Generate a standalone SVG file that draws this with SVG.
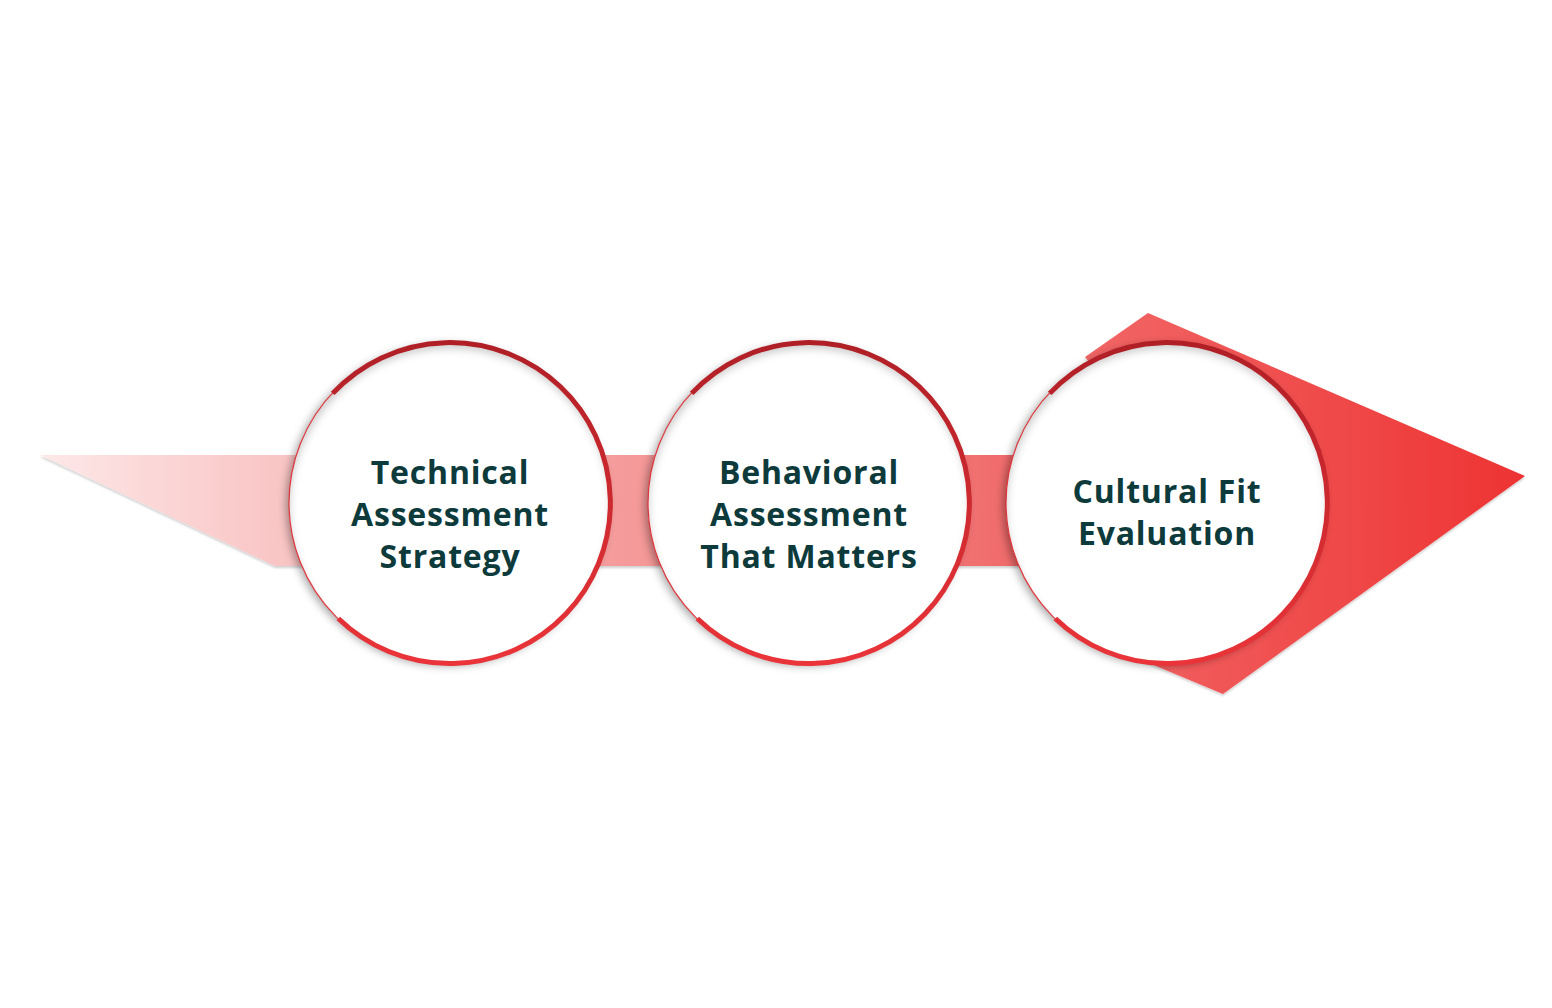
<svg xmlns="http://www.w3.org/2000/svg" width="1552" height="1008" viewBox="0 0 1552 1008">
<defs>
  <linearGradient id="bandGrad" gradientUnits="userSpaceOnUse" x1="40" y1="0" x2="1020" y2="0">
    <stop offset="0" stop-color="#fde8e8"/>
    <stop offset="0.25" stop-color="#f9c4c4"/>
    <stop offset="0.6" stop-color="#f59a9a"/>
    <stop offset="1" stop-color="#f06a6a"/>
  </linearGradient>
  <linearGradient id="headGrad" gradientUnits="userSpaceOnUse" x1="1050" y1="0" x2="1525" y2="0">
    <stop offset="0" stop-color="#f26a6a"/>
    <stop offset="1" stop-color="#ee3333"/>
  </linearGradient>
  <linearGradient id="ringGrad" x1="0" y1="0" x2="0" y2="1">
    <stop offset="0" stop-color="#b01f26"/>
    <stop offset="1" stop-color="#ea3439"/>
  </linearGradient>
  <filter id="circShadow" x="-20%" y="-20%" width="140%" height="140%">
    <feDropShadow dx="-3" dy="2" stdDeviation="4" flood-color="#000" flood-opacity="0.35"/>
  </filter>
  <filter id="bandShadow" x="-5%" y="-20%" width="110%" height="140%">
    <feDropShadow dx="0" dy="2" stdDeviation="1" flood-color="#000" flood-opacity="0.18"/>
  </filter>
  <filter id="innerBlur" x="-10%" y="-10%" width="120%" height="120%">
    <feGaussianBlur stdDeviation="4"/>
  </filter>
  <clipPath id="clip1"><circle cx="450" cy="503" r="161"/></clipPath>
  <clipPath id="clip2"><circle cx="809" cy="503" r="161"/></clipPath>
  <clipPath id="clip3"><circle cx="1167" cy="503" r="161"/></clipPath>
  <style>
    .disc { fill: #ffffff; filter: url(#circShadow); }
    .inner { fill: none; stroke: #000000; stroke-opacity: 0.22; stroke-width: 10; filter: url(#innerBlur); }
    .ring { fill: none; stroke: url(#ringGrad); stroke-width: 5; }
    .thin { fill: none; stroke: #e0353b; stroke-width: 1.2; }
    .label { font-family: "Open Sans", "Liberation Sans", sans-serif; font-weight: 700; font-size: 32px; fill: #0d3a3b; text-anchor: middle; letter-spacing: 0.8px; }
  </style>
</defs>
<rect width="1552" height="1008" fill="#ffffff"/>

<g id="connectors">
  <polygon id="band" points="40,455 1020,455 1020,566 275,566" fill="url(#bandGrad)" filter="url(#bandShadow)"/>
  <polygon id="arrowhead" points="1148,313 1525,476 1223,694 1120,651 1100,420 1100,375 1085,357" fill="url(#headGrad)" filter="url(#bandShadow)"/>
</g>

<g id="node1">
  <circle class="disc" cx="450" cy="503" r="161"/>
  <g clip-path="url(#clip1)"><circle class="inner" cx="450" cy="509" r="166"/></g>
  <circle class="thin" cx="450" cy="503" r="161"/>
  <path class="ring" d="M 332.7 393.4 A 160.5 160.5 0 1 1 338.3 618.5"/>
  <text class="label" x="450" y="484">Technical</text>
  <text class="label" x="450" y="526">Assessment</text>
  <text class="label" x="450" y="568">Strategy</text>
</g>

<g id="node2">
  <circle class="disc" cx="809" cy="503" r="161"/>
  <g clip-path="url(#clip2)"><circle class="inner" cx="809" cy="509" r="166"/></g>
  <circle class="thin" cx="809" cy="503" r="161"/>
  <path class="ring" d="M 691.7 393.4 A 160.5 160.5 0 1 1 697.3 618.5"/>
  <text class="label" x="809" y="484">Behavioral</text>
  <text class="label" x="809" y="526">Assessment</text>
  <text class="label" x="809" y="568">That Matters</text>
</g>

<g id="node3">
  <circle class="disc" cx="1167" cy="503" r="161"/>
  <g clip-path="url(#clip3)"><circle class="inner" cx="1167" cy="509" r="166"/></g>
  <circle class="thin" cx="1167" cy="503" r="161"/>
  <path class="ring" d="M 1049.7 393.4 A 160.5 160.5 0 1 1 1055.3 618.5"/>
  <text class="label" x="1167" y="503">Cultural Fit</text>
  <text class="label" x="1167" y="545">Evaluation</text>
</g>
</svg>
